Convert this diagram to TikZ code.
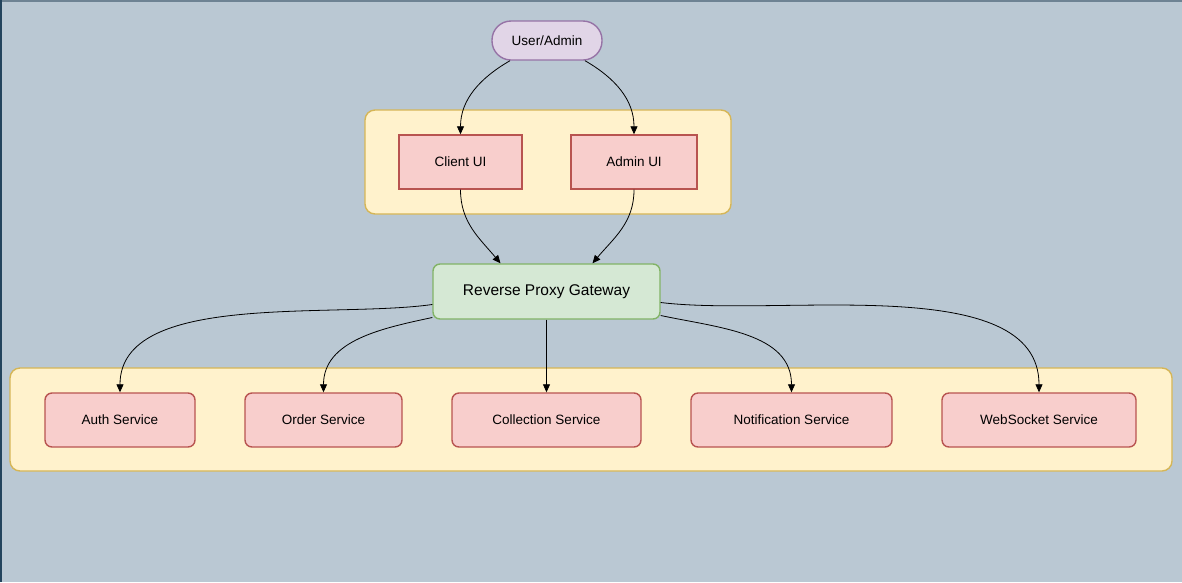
\documentclass[tikz,border=0pt]{standalone}
\usepackage{fontspec}
\setmainfont{Liberation Sans}
\usepackage{xcolor}
\usetikzlibrary{arrows.meta, positioning}

\definecolor{bgblue}{HTML}{BAC8D3}
\definecolor{bgline}{HTML}{23445D}
\definecolor{topline}{HTML}{6E8393}
\definecolor{groupfill}{HTML}{FFF2CC}
\definecolor{groupline}{HTML}{D6B656}
\definecolor{boxfill}{HTML}{F8CECC}
\definecolor{boxline}{HTML}{B85450}
\definecolor{userfill}{HTML}{E1D5E7}
\definecolor{userline}{HTML}{9673A6}
\definecolor{gwfill}{HTML}{D5E8D4}
\definecolor{gwline}{HTML}{82B366}

\begin{document}
\begin{tikzpicture}[
        x=1pt, y=-1pt,
        >={Triangle[length=8pt,width=7pt]},
        every node/.style = {
            font=\fontsize{13.5}{16}\selectfont,
            text centered,
            line width=1.4pt
        },
        group/.style = {
            draw=groupline,
            fill=groupfill,
            rounded corners=10pt,
            line width=1.4pt
        },
        uibox/.style = {
            draw=boxline,
            fill=boxfill,
            minimum width=123pt,
            minimum height=54pt
        },
        service/.style = {
            uibox,
            rounded corners=7pt
        },
        link/.style = {
            ->,
            line width=0.8pt
        }
    ]
        % background and frame
        \useasboundingbox (0,0) rectangle (1182,582);
        \fill[bgblue] (0,0) rectangle (1182,582);
        \draw[topline, line width=1.5pt] (0,0.75) -- (1182,0.75);
        \draw[bgline, line width=1.5pt] (0.75,582) -- (0.75,0);

        % group panels
        \draw[group] (365,110) rectangle (731,214);
        \draw[group] (10,368) rectangle (1172,471);

        \node [draw=userline, fill=userfill, rounded corners=19pt,
               minimum width=110pt, minimum height=39pt] (user) at (547,40.5) {User/Admin};

        \node [uibox]                     (client) at (460.5,162) {Client UI};
        \node [uibox, minimum width=126pt] (admin) at (634,162)   {Admin UI};

        \node [draw=gwline, fill=gwfill, rounded corners=7pt,
               minimum width=227pt, minimum height=55pt,
               font=\fontsize{15.5}{18}\selectfont] (gateway) at (546.5,291.5) {Reverse Proxy Gateway};

        \node [service, minimum width=150pt] (auth)         at (120,420)    {Auth Service};
        \node [service, minimum width=157pt] (order)        at (323.5,420)  {Order Service};
        \node [service, minimum width=189pt] (collection)   at (546.5,420)  {Collection Service};
        \node [service, minimum width=201pt] (notification) at (791.5,420)  {Notification Service};
        \node [service, minimum width=194pt] (websocket)    at (1039,420)   {WebSocket Service};

        \draw[link] ([xshift=-37pt]user.south) to[out=-150, in=90] (client.north);
        \draw[link] ([xshift=38pt]user.south)  to[out=-30, in=90]  (admin.north);

        \draw[link] (client.south) to[out=-90, in=130] ([xshift=-46pt]gateway.north);
        \draw[link] (admin.south)  to[out=-90, in=50]  ([xshift=46pt]gateway.north);

        \draw[link] ([yshift=-13pt]gateway.west) to[out=188, in=90, looseness=0.8] (auth.north);
        \draw[link] ([yshift=-26pt]gateway.west) to[out=192, in=90] (order.north);
        \draw[link] (gateway.south) -- (collection.north);
        \draw[link] ([yshift=-24pt]gateway.east) to[out=-12, in=90] (notification.north);
        \draw[link] ([yshift=-11pt]gateway.east) to[out=-7, in=90, looseness=0.8] (websocket.north);
    \end{tikzpicture}
\end{document}
